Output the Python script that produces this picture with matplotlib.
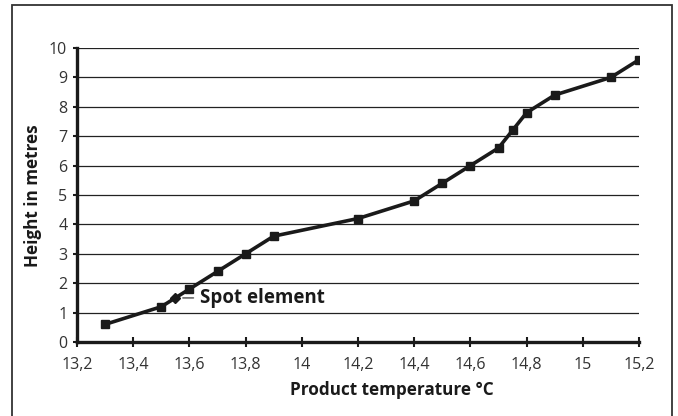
import numpy as np
import matplotlib
matplotlib.use("Agg")
import matplotlib.pyplot as plt
import matplotlib.transforms as mtransforms
from matplotlib.patches import Rectangle
from matplotlib.ticker import FuncFormatter, MultipleLocator

W, H = 678, 416

# product temperature (°C) vs height (m)
temp = [13.3, 13.5, 13.6, 13.7, 13.8, 13.9, 14.2, 14.4, 14.5, 14.6, 14.7, 14.75, 14.8, 14.9, 15.1, 15.2]
height = [0.6, 1.2, 1.8, 2.4, 3.0, 3.6, 4.2, 4.8, 5.4, 6.0, 6.6, 7.2, 7.8, 8.4, 9.0, 9.6]
spot_temp = [13.55]
spot_height = [1.5]
spot_label = "Spot element"

plt.rcParams['font.family'] = ['Open Sans', 'DejaVu Sans']

fig = plt.figure(figsize=(W / 100, H / 100), dpi=100)

# outer frame (bottom edge falls outside the picture)
fig.patches.append(Rectangle((11.5 / W, -0.05), (671.5 - 11.5) / W, 1.05 - 5 / H,
                             transform=fig.transFigure, fill=False,
                             edgecolor='#333333', lw=1.3))

ax = fig.add_axes([77 / W, (H - 342) / H, (639 - 77) / W, (342 - 48) / H])
ax.set_xlim(13.2, 15.2)
ax.set_ylim(0, 10)

for y in range(1, 11):
    ax.axhline(y, color='#222222', lw=0.9, zorder=1)

ax.plot(temp, height, color='#1a1a1a', lw=2.6, marker='s', ms=5.5, zorder=3)
ax.plot(spot_temp, spot_height, color='#1a1a1a', marker='D', ms=5.5, ls='none', zorder=4)

# leader line and label for the spot element
sx, sy = spot_temp[0], spot_height[0]
ax.annotate('', xy=(sx, sy), xytext=(18, 0), textcoords='offset pixels',
            arrowprops=dict(arrowstyle='-', color='#777777', lw=1.3,
                            shrinkA=0, shrinkB=5.5))
ax.annotate(spot_label, xy=(sx, sy), xytext=(25, 0),
            textcoords='offset pixels', fontsize=13.5, fontweight='bold',
            va='center', ha='left', color='#1a1a1a')

for s in ['top', 'right']:
    ax.spines[s].set_visible(False)
for s in ['left', 'bottom']:
    ax.spines[s].set_linewidth(2.4)
    ax.spines[s].set_color('#1a1a1a')

ax.xaxis.set_major_locator(MultipleLocator(0.2))
ax.yaxis.set_major_locator(MultipleLocator(1))
ax.xaxis.set_major_formatter(FuncFormatter(lambda v, _: f'{v:g}'.replace('.', ',')))
ax.tick_params(axis='x', direction='inout', length=7, width=1.5, color='#1a1a1a',
               labelsize=11.5, pad=7, labelcolor='#333333')
ax.tick_params(axis='y', direction='out', length=3, width=1.5, color='#1a1a1a',
               labelsize=11.5, pad=4, labelcolor='#333333')

fig.text(392 / W, 1 - 390 / H, 'Product temperature °C', ha='center', va='center',
         fontsize=12.3, fontweight='bold', color='#1a1a1a')
fig.text(33 / W, 1 - 196 / H, 'Height in metres', ha='center', va='center',
         rotation=90, fontsize=12.3, fontweight='bold', color='#1a1a1a')

fig.savefig('out.png', dpi=100)
